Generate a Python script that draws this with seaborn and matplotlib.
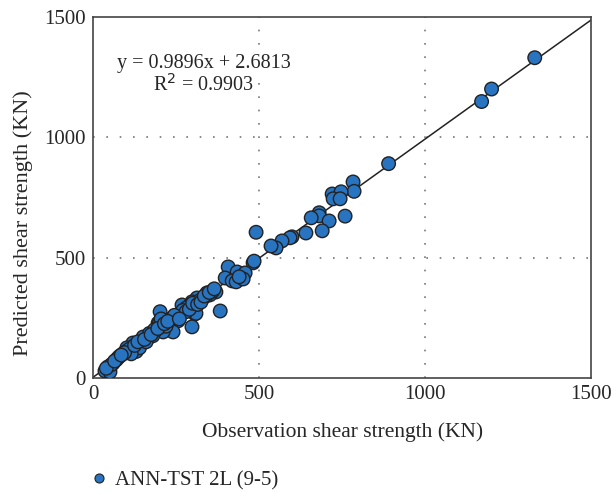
import matplotlib
matplotlib.use("Agg")
import matplotlib.pyplot as plt
import seaborn as sns
import numpy as np
import pandas as pd

observed = [1330, 1200, 1170, 890, 783, 786, 720, 747, 723, 744, 759, 681, 681, 657, 711, 690, 641,
            599, 593, 569, 551, 536, 491, 482, 485,
            407, 434, 458, 398, 419, 431, 452, 440,
            370, 343, 352, 313, 298, 268, 301, 383, 307, 330, 320, 290, 280, 340, 360,
            202, 298, 310, 226, 196, 256, 241, 211, 181, 151, 120, 148, 102, 75, 45, 36, 51,
            60, 80, 90, 100, 110, 130, 140, 160, 170, 180, 190, 200, 210, 220, 230, 240, 250,
            260, 270, 280, 130, 140, 160, 170, 200, 205, 185, 115, 95, 70, 55, 40, 65, 85, 125,
            135, 155, 175, 195, 215, 235, 245, 225, 260, 290, 300, 315, 325, 335, 350, 365]
predicted = [1330, 1200, 1148, 890, 814, 775, 764, 773, 744, 744, 672, 686, 673, 665, 652, 611, 602,
             586, 582, 569, 540, 548, 605, 478, 485,
             461, 440, 436, 415, 403, 399, 411, 420,
             357, 353, 345, 332, 316, 303, 295, 278, 266, 330, 320, 300, 290, 340, 360,
             275, 212, 268, 228, 228, 237, 191, 191, 187, 170, 145, 145, 125, 83, 46, 29, 25,
             60, 90, 100, 110, 120, 130, 140, 160, 170, 175, 200, 210, 220, 215, 240, 250, 255,
             265, 280, 275, 110, 125, 150, 185, 230, 245, 200, 100, 105, 75, 55, 40, 70, 95, 135,
             150, 160, 180, 205, 225, 245, 260, 235, 245, 285, 310, 305, 315, 340, 355, 370]

slope, intercept = 0.9896, 2.6813
series_name = "ANN-TST 2L (9-5)"
ticks = [0, 500, 1000, 1500]

df = pd.DataFrame({"obs": observed, "pred": predicted, "model": series_name})

sns.set_style("white")
serif = ["Liberation Serif", "DejaVu Serif"]
plt.rcParams["font.family"] = serif

fig = plt.figure(figsize=(6.12, 4.94), dpi=100)
ax = fig.add_axes([0.152, 0.235, 0.814, 0.731])

xs = np.array([0, 1500])
ax.plot(xs, slope * xs + intercept, color="#222222", lw=1.1, zorder=2)

sns.scatterplot(data=df, x="obs", y="pred", hue="model", palette=["#2874c0"],
                s=95, edgecolor="#222222", linewidth=1.0, ax=ax, zorder=3, legend=False)

ax.set_xlim(0, 1500)
ax.set_ylim(0, 1500)
ax.set_xticks(ticks)
ax.set_yticks(ticks)
ax.set_xticklabels([str(t) for t in ticks], fontsize=15)
ax.set_yticklabels([str(t) for t in ticks], fontsize=15)
ax.tick_params(direction="in", length=3, color="#444444", pad=5)
for v in [500, 1000]:
    ax.axvline(v, color="#777777", lw=1.2, ls=(0, (1, 7)), zorder=1)
    ax.axhline(v, color="#777777", lw=1.2, ls=(0, (1, 7)), zorder=1)
for sp in ax.spines.values():
    sp.set_color("#444444")
    sp.set_linewidth(1.2)

ax.set_xlabel("Observation shear strength (KN)", fontsize=15.5, labelpad=13)
ax.set_ylabel("Predicted shear strength (KN)", fontsize=16, labelpad=6)
ax.yaxis.set_label_coords(-0.12, 0.43)

box = dict(facecolor="white", edgecolor="none", pad=0.5)
ax.text(334, 1306, "y = 0.9896x + 2.6813", ha="center", va="center", fontsize=14.5,
        bbox=box, zorder=4)
ax.text(334, 1219, "R$^2$ = 0.9903", ha="center", va="center", fontsize=14.5,
        bbox=box, zorder=4)

handle = plt.Line2D([], [], marker="o", ls="", markersize=6.5, markerfacecolor="#2874c0",
                    markeredgecolor="#222222", markeredgewidth=0.8)
fig.legend([handle], [series_name], loc="center left", bbox_to_anchor=(0.11, 0.027),
           frameon=False, fontsize=15, handletextpad=0.2, handlelength=1.2)

fig.savefig("out.png", dpi=100)
